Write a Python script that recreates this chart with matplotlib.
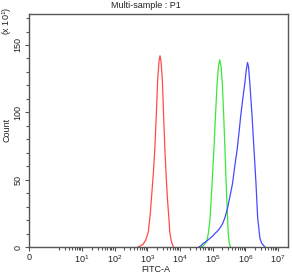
import numpy as np
import matplotlib
matplotlib.use("Agg")
import matplotlib.pyplot as plt
from matplotlib.ticker import FixedLocator, NullFormatter

plt.rcParams['font.family'] = ['Liberation Sans', 'DejaVu Sans']
plt.rcParams['mathtext.default'] = 'regular'

# histogram outlines, x as log10(FITC-A), y as count (x 10^1)
red_log = [2.72, 2.80, 2.87, 2.95, 3.03, 3.09, 3.14, 3.19, 3.23, 3.28, 3.32, 3.36,
           3.39, 3.42, 3.46, 3.50, 3.54, 3.58, 3.62, 3.66, 3.69, 3.74, 3.80]
red_cnt = [0, 1, 2, 5, 11, 24, 40, 56, 72, 100, 125, 138,
           142, 138, 125, 98, 72, 52, 35, 22, 11, 4, 0]

green_log = [4.66, 4.72, 4.82, 4.87, 4.92, 4.98, 5.04, 5.09, 5.14, 5.18, 5.22, 5.26,
             5.30, 5.34, 5.38, 5.43, 5.48, 5.51, 5.55]
green_cnt = [0, 1, 4, 10, 20, 45, 72, 98, 122, 134, 139, 134,
             121, 98, 72, 38, 10, 3, 0]

blue_log = [4.58, 4.65, 4.71, 4.80, 4.92, 5.00, 5.07, 5.16, 5.25, 5.32, 5.38, 5.45,
            5.51, 5.56, 5.61, 5.68, 5.75, 5.81, 5.86, 5.92, 5.99, 6.03, 6.07, 6.10,
            6.14, 6.21, 6.27, 6.33, 6.38, 6.45, 6.50, 6.55, 6.60]
blue_cnt = [0, 1, 2.7, 4, 6.5, 8, 10, 12, 15, 18, 22, 28,
            35, 41, 47, 60, 72, 85, 97, 109, 122, 131, 137, 134,
            122, 97, 72, 47, 22, 6.5, 3, 1.5, 0]

xtick_vals = [0] + [10 ** k for k in range(1, 8)]
xtick_labels = ['0'] + ['$10^{%d}$' % k for k in range(1, 8)]
ytick_vals = [0, 50, 100, 150]

fig = plt.figure(figsize=(2.92, 2.75), dpi=100)
ax = fig.add_axes([29 / 292, 1 - 247 / 275, 259 / 292, 233 / 275])

ax.set_xscale('symlog', linthresh=1, linscale=0.56)

for logs, cnts, col in [(red_log, red_cnt, '#ff4a4a'),
                        (green_log, green_cnt, '#3ae83a'),
                        (blue_log, blue_cnt, '#4848ff')]:
    ax.plot(10 ** np.array(logs), cnts, color=col, lw=0.9)

ax.set_xlim(0, 10 ** 7.31)
ax.set_ylim(0, 173)

ax.xaxis.set_major_locator(FixedLocator(xtick_vals))
ax.set_xticklabels(xtick_labels)
minor_x = [m * 10 ** k for k in range(0, 7) for m in range(2, 10)]
ax.xaxis.set_minor_locator(FixedLocator(minor_x))
ax.xaxis.set_minor_formatter(NullFormatter())

ax.set_yticks(ytick_vals)
ax.set_yticklabels([str(v) for v in ytick_vals], rotation=90, va='center')
ax.yaxis.set_minor_locator(FixedLocator(list(range(10, 171, 10))))

for s in ax.spines.values():
    s.set_color('#555555')
    s.set_linewidth(1.0)

ax.tick_params(axis='both', which='major', length=3, width=0.8, color='#555555',
               labelsize=6.5, pad=1.5, labelcolor='#222222')
ax.tick_params(axis='both', which='minor', length=2, width=0.8, color='#555555')

# axis titles placed as figure text
fig.text(156 / 292, 1 - 270 / 275, 'FITC-A', ha='center', va='center',
         fontsize=6.5, color='#222222')
fig.text(7 / 292, 1 - 130 / 275, 'Count', ha='center', va='center',
         rotation=90, fontsize=6.5, color='#222222')
fig.text(0.5, 1 - 6 / 275, 'Multi-sample : P1', ha='center', va='center',
         fontsize=6.5, color='#222222')
fig.text(7 / 292, 1 - 21 / 275, '(x $10^{1}$)', ha='center', va='center',
         rotation=90, fontsize=6.5, color='#222222')

fig.savefig('out.png', dpi=100)
